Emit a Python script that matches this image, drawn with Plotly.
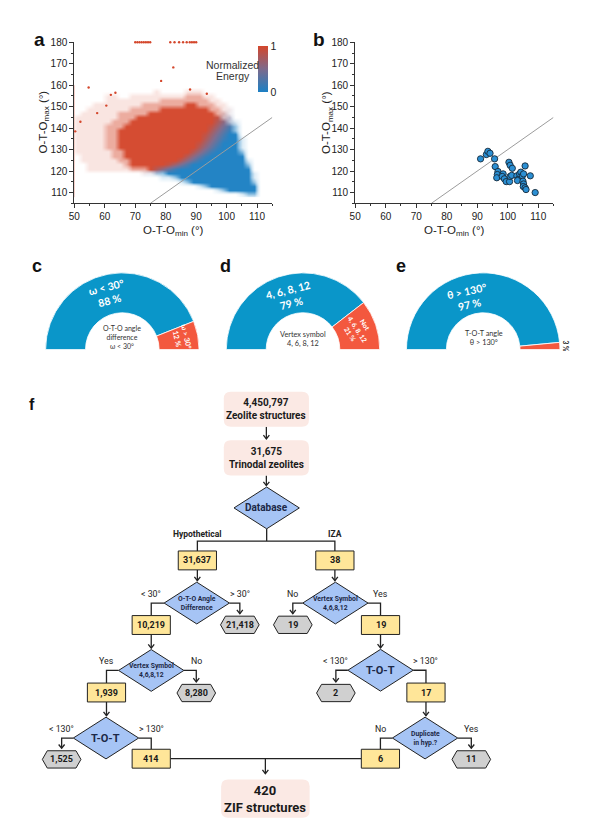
import plotly.graph_objects as go

W, H = 601, 825

# ---------------- panel a : O-T-O max vs O-T-O min, all trinodal zeolites ----------------
# The dense cloud is read off the picture on a 2 deg x 2 deg grid (cell centres).
cloud_x = [51, 53, 55, 57, 59, 61, 63, 65, 67, 69, 71, 73, 75, 77, 79, 81,
           83, 85, 87, 89, 91, 93, 95, 97, 99, 101, 103, 105, 107, 109, 111]
cloud_y = [159, 157, 155, 153, 151, 149, 147, 145, 143, 141, 139, 137, 135,
           133, 131, 129, 127, 125, 123, 121, 119, 117, 115, 113, 111, 109]
# mean normalized energy of the points in a cell: 0 (blue) .. 9 (red); groups of 5 columns
energy_rows = [
    "99999 99999 99999 99999 99999 98642 0",
    "99999 99999 99999 99999 99999 98642 0",
    "99999 99999 99999 99999 99999 97531 0",
    "99999 99999 99999 99999 99999 86420 0",
    "99999 99999 99999 99999 99999 75310 0",
    "99999 99999 99999 99999 99998 64200 0",
    "99999 99999 99999 99999 99997 53100 0",
    "99999 99999 99999 99999 99986 42000 0",
    "99999 99999 99999 99999 99975 31000 0",
    "99999 99999 99999 99999 99864 20000 0",
    "99999 99999 99999 99999 99753 10000 0",
    "99999 99999 99999 99999 98642 00000 0",
    "99999 99999 99999 99999 97531 00000 0",
    "99999 99999 99999 99999 86420 00000 0",
    "99999 99999 99999 99999 75310 00000 0",
    "99999 99999 99999 99997 53100 00000 0",
    "99999 99999 99999 99975 31000 00000 0",
    "99999 99999 99999 99753 10000 00000 0",
    "99999 99999 99999 86420 00000 00000 0",
    "99999 99999 99975 31000 00000 00000 0",
    "99999 99999 86420 00000 00000 00000 0",
    "99999 99986 42000 00000 00000 00000 0",
    "99999 98642 00000 00000 00000 00000 0",
    "99998 64200 00000 00000 00000 00000 0",
    "99864 20000 00000 00000 00000 00000 0",
    "86420 00000 00000 00000 00000 00000 0",
]
# how crowded a cell is: 0 empty, 1 sparse, 2 medium, 3 dense
density_rows = [
    "00000 00000 00000 00000 00000 00000 0",
    "00000 00000 00010 00011 10000 00000 0",
    "00000 11001 11111 11122 21100 00000 0",
    "00000 11111 11112 22222 22110 00000 0",
    "00011 11111 12222 22233 22211 00000 0",
    "00111 11112 22223 33333 33221 10000 0",
    "01111 11222 22333 33333 33322 10000 0",
    "11111 11222 33333 33333 33332 20000 0",
    "11111 12223 33333 33333 33333 21000 0",
    "11111 22233 33333 33333 33333 32000 0",
    "11111 22333 33333 33333 33333 32000 0",
    "11111 22333 33333 33333 33333 33000 0",
    "11111 22333 33333 33333 33333 33100 0",
    "11111 22333 33333 33333 33333 33100 0",
    "11111 22333 33333 33333 33333 33100 0",
    "11111 12233 33333 33333 33333 33200 0",
    "01111 12233 33333 33333 33333 33300 0",
    "01111 11223 33333 33333 33333 33310 0",
    "00111 11123 33333 33333 33333 33320 0",
    "00111 11112 22333 33333 33333 33330 0",
    "00000 00000 01122 33333 33333 33331 0",
    "00000 00000 00001 12333 33333 33331 0",
    "00000 00000 00000 00123 33333 33332 0",
    "00000 00000 00000 00000 12333 33333 0",
    "00000 00000 00000 00000 00012 33333 0",
    "00000 00000 00000 00000 00000 00122 0",
]
# isolated points
top_x = [70.0, 70.7, 71.4, 72.1, 72.8, 73.5, 74.2, 74.9, 81.5, 82.9, 84.4,
         85.7, 86.9, 87.9, 88.6, 89.3, 90.0]
top_y = [180] * len(top_x)
outlier_x = [50.3, 52.0, 54.7, 78.5, 82.5, 62.0, 63.5, 57.5, 60.5, 88.0, 93.5]
outlier_y = [138.5, 143.0, 158.9, 162.0, 168.3, 155.5, 156.5, 147.0, 150.5, 158.0, 156.0]
# reference line O-T-O max = O-T-O min + 30
diag_x = [75, 115]
diag_y = [105, 145]

# ---------------- panel b : the 34 IZA-derived points ----------------
zif_x = [91.1, 93.0, 93.5, 94.2, 95.7, 95.9, 96.8, 96.6, 96.4, 98.5, 98.2, 98.9,
         99.5, 100.6, 100.8, 101.3, 100.4, 100.8, 101.5, 103.0, 103.5, 103.2,
         103.9, 104.3, 104.8, 105.2, 105.7, 105.0, 105.2, 105.1, 105.7, 106.0,
         107.4, 109.0]
zif_y = [125.7, 127.7, 129.2, 128.3, 125.7, 122.1, 119.8, 118.4, 116.9, 118.7,
         117.5, 116.4, 115.1, 115.1, 117.5, 118.0, 124.1, 122.7, 121.3, 117.8,
         116.2, 115.6, 118.7, 119.5, 117.8, 118.7, 122.4, 115.3, 114.0, 112.8,
         112.2, 111.4, 117.8, 110.0]

x_ticks = [50, 60, 70, 80, 90, 100, 110]
y_ticks = [110, 120, 130, 140, 150, 160, 170, 180]

# ---------------- panels c-e : half donuts ----------------
donut_keep = [88, 79, 97]
donut_drop = [12, 21, 3]

# ---------------- panel f : flow chart ----------------
flow_nodes = [
    ("zeo", "start", 263.0, 406.7, "4,450,797<br>Zeolite structures"),
    ("tri", "start", 263.0, 455.7, "31,675<br>Trinodal zeolites"),
    ("db", "dec", 263.3, 506.0, "Database"),
    ("hyp", "keep", 193.3, 558.8, "31,637"),
    ("iza", "keep", 332.2, 558.8, "38"),
    ("oto", "dec", 192.7, 601.7, "O-T-O Angle<br>Difference"),
    ("k_oto", "keep", 146.7, 623.8, "10,219"),
    ("h_oto", "drop", 236.2, 623.6, "21,418"),
    ("vs_h", "dec", 146.7, 669.5, "Vertex Symbol<br>4,6,8,12"),
    ("k_vs_h", "keep", 101.5, 691.7, "1,939"),
    ("h_vs_h", "drop", 192.2, 692.2, "8,280"),
    ("tot_h", "dec", 101.0, 737.5, "T-O-T"),
    ("h_tot_h", "drop", 56.2, 759.0, "1,525"),
    ("k_tot_h", "keep", 146.7, 758.3, "414"),
    ("vs_i", "dec", 332.7, 601.7, "Vertex Symbol<br>4,6,8,12"),
    ("h_vs_i", "drop", 289.7, 623.6, "19"),
    ("k_vs_i", "keep", 378.3, 623.8, "19"),
    ("tot_i", "dec", 378.3, 669.3, "T-O-T"),
    ("h_tot_i", "drop", 333.2, 692.2, "2"),
    ("k_tot_i", "keep", 424.2, 691.7, "17"),
    ("dup", "dec", 423.3, 737.5, "Duplicate<br>in hyp.?"),
    ("k_dup", "keep", 378.2, 758.3, "6"),
    ("h_dup", "drop", 470.0, 759.0, "11"),
    ("zif", "end", 262.0, 798.5, "420<br>ZIF structures"),
]
straight_edges = [("zeo", "tri"), ("tri", "db"), ("hyp", "oto"), ("k_oto", "vs_h"),
                  ("k_vs_h", "tot_h"), ("iza", "vs_i"), ("k_vs_i", "tot_i"),
                  ("k_tot_i", "dup")]
elbow_edges = [
    ("oto", "L", "k_oto", False, "&lt; 30°"), ("oto", "R", "h_oto", True, "&gt; 30°"),
    ("vs_h", "L", "k_vs_h", False, "Yes"), ("vs_h", "R", "h_vs_h", True, "No"),
    ("tot_h", "L", "h_tot_h", True, "&lt; 130°"), ("tot_h", "R", "k_tot_h", False, "&gt; 130°"),
    ("vs_i", "L", "h_vs_i", True, "No"), ("vs_i", "R", "k_vs_i", False, "Yes"),
    ("tot_i", "L", "h_tot_i", True, "&lt; 130°"), ("tot_i", "R", "k_tot_i", False, "&gt; 130°"),
    ("dup", "L", "k_dup", False, "No"), ("dup", "R", "h_dup", True, "Yes"),
]

# ====================================================================================
AX_FONT = "Liberation Sans, Arial, sans-serif"
FLOW_FONT = "Roboto, Liberation Sans, sans-serif"
DON_FONT = "Lato, Open Sans, sans-serif"
RED_E, MID_E, BLUE_E = "#d4472c", "#7d6a8c", "#1c80c4"
DON_BLUE, DON_RED = "#0a96c9", "#f3583e"


def grid(rows):
    return [[int(c) for c in r.replace(" ", "")] for r in rows]


E, D = grid(energy_rows), grid(density_rows)

# the white veil is padded with empty cells well past the axis ranges, so that the
# colour layer's edges always sit under opaque white
PAD_L, PAD_R, PAD_T, PAD_B = 3, 4, 13, 4
vx = [cloud_x[0] - 2 * k for k in range(PAD_L, 0, -1)] + cloud_x + \
     [cloud_x[-1] + 2 * k for k in range(1, PAD_R + 1)]
vy = [cloud_y[0] + 2 * k for k in range(PAD_T, 0, -1)] + cloud_y + \
     [cloud_y[-1] - 2 * k for k in range(1, PAD_B + 1)]
ncol = len(vx)
D_veil = [[0] * ncol for _ in range(PAD_T)] + \
         [[0] * PAD_L + r + [0] * PAD_R for r in D] + \
         [[0] * ncol for _ in range(PAD_B)]

fig = go.Figure()

# panel a cloud: energy colour layer, then white veil that thins where points are dense
fig.add_trace(go.Heatmap(
    x=cloud_x, y=cloud_y, z=E, zmin=0, zmax=9, zsmooth="best",
    colorscale=[[0, BLUE_E], [0.5, MID_E], [1, RED_E]], hoverinfo="skip",
    xaxis="x", yaxis="y",
    colorbar=dict(x=255 / W, xanchor="left", y=1 - 64.5 / H, yanchor="middle",
                  len=46, lenmode="pixels", thickness=10, thicknessmode="pixels",
                  xpad=0, ypad=0, outlinewidth=0, tickvals=[0, 9], ticktext=["0", "1"],
                  ticks="", tickfont=dict(size=10.5, family=AX_FONT, color="#222"))))
fig.add_trace(go.Heatmap(
    x=vx, y=vy, z=D_veil, zmin=0, zmax=3, zsmooth="best",
    colorscale=[[0, "rgba(255,255,255,1)"], [1 / 3, "rgba(255,255,255,0.86)"],
                [2 / 3, "rgba(255,255,255,0.55)"], [1, "rgba(255,255,255,0.03)"]],
    showscale=False, hoverinfo="skip", xaxis="x", yaxis="y"))
fig.add_trace(go.Scatter(x=top_x + outlier_x, y=top_y + outlier_y, mode="markers",
                         marker=dict(size=2.4, color=RED_E), hoverinfo="skip",
                         xaxis="x", yaxis="y", cliponaxis=False))
for xa, ya in (("x", "y"), ("x2", "y2")):
    fig.add_trace(go.Scatter(x=diag_x, y=diag_y, mode="lines",
                             line=dict(color="#9c9c9c", width=1), hoverinfo="skip",
                             xaxis=xa, yaxis=ya))

# panel b
fig.add_trace(go.Scatter(x=zif_x, y=zif_y, mode="markers", xaxis="x2", yaxis="y2",
                         marker=dict(size=6.3, color="#2b8fd3",
                                     line=dict(color="#15293a", width=0.9)),
                         hoverinfo="skip"))

# panels c-e
CY, R = 346.7, 77.5
donut_cx = [117.5, 300.0, 482.0]
for cx, keep, drop in zip(donut_cx, donut_keep, donut_drop):
    fig.add_trace(go.Pie(
        values=[keep, drop, keep + drop], sort=False, direction="clockwise",
        rotation=270, hole=0.48, textinfo="none", hoverinfo="skip", showlegend=False,
        marker=dict(colors=[DON_BLUE, DON_RED, "rgba(0,0,0,0)"],
                    line=dict(color="white", width=[0.8, 0.8, 0])),
        domain=dict(x=[(cx - R) / W, (cx + R) / W], y=[1 - (CY + R) / H, 1 - (CY - R) / H])))

axis_common = dict(showline=True, linecolor="#333", linewidth=1, ticks="outside",
                   ticklen=4, tickwidth=1, tickcolor="#333", showgrid=False,
                   zeroline=False, tickfont=dict(family=AX_FONT, size=10, color="#222"),
                   minor=dict(ticks="outside", ticklen=2, tickcolor="#333", dtick=5,
                              showgrid=False))
ydom = [1 - 199.5 / H, 1 - 37.5 / H]
fig.update_layout(
    width=W, height=H, margin=dict(l=0, r=0, t=0, b=0),
    paper_bgcolor="white", plot_bgcolor="rgba(0,0,0,0)", showlegend=False,
    font=dict(family=AX_FONT, color="#222"),
    xaxis=dict(domain=[69 / W, 269 / W], range=[50, 115], tickvals=x_ticks, anchor="y",
               **axis_common),
    yaxis=dict(domain=ydom, range=[105, 180], tickvals=y_ticks, anchor="x", **axis_common),
    xaxis2=dict(domain=[352.7 / W, 553 / W], range=[50, 115], tickvals=x_ticks,
                anchor="y2", **axis_common),
    yaxis2=dict(domain=ydom, range=[105, 180], tickvals=y_ticks, anchor="x2",
                **axis_common),
    xaxis3=dict(domain=[0, 1], range=[0, W], visible=False, anchor="y3", fixedrange=True),
    yaxis3=dict(domain=[0, 1], range=[H, 0], visible=False, anchor="x3", fixedrange=True),
)


def txt(x, y, s, size, color="#222", family=FLOW_FONT, angle=0, **kw):
    fig.add_annotation(x=x, y=y, xref="x3", yref="y3", text=s, showarrow=False,
                       font=dict(size=size, color=color, family=family),
                       textangle=angle, **kw)


def shp(path, fill="rgba(0,0,0,0)", color="#222", width=1.2):
    fig.add_shape(type="path", path=path, xref="x3", yref="y3", fillcolor=fill,
                  line=dict(color=color, width=width), layer="above")


# panel letters
for lx, ly, s, sz in ((34, 35, "a", 19), (316.5, 35, "b", 19), (31, 262.5, "c", 18),
                      (222, 262.5, "d", 18), (399, 262.5, "e", 18), (26, 402, "f", 16)):
    txt(lx, ly, "<b>" + s + "</b>", sz, color="#111", family=AX_FONT)

# axis titles of a / b
for cx_t, cy_t in ((169, 227), (453, 227)):
    txt(cx_t, cy_t, "O-T-O<sub>min</sub> (°)", 11.5, family=AX_FONT)
for cx_t, cy_t in ((38, 117.5), (325, 118)):
    txt(cx_t, cy_t, "O-T-O<sub>max</sub> (°)", 11.5, family=AX_FONT, angle=-90)
txt(229, 60, "Normalized", 10.5, color="#333", family=AX_FONT)
txt(229, 71.5, "Energy", 10.5, color="#333", family=AX_FONT)

# donut labels
txt(103, 291, "<b>ω &lt; 30°<br>88 %</b>", 10.5, color="white", family=DON_FONT, angle=-14)
txt(177, 334.5, "<b>ω &gt; 30°<br>12 %</b>", 7.3, color="white", family=DON_FONT, angle=77)
txt(117.5, 334, "O-T-O angle<br>difference<br>ω &lt; 30°", 7, color="#333", family=DON_FONT)
txt(286, 294, "<b>4, 6, 8, 12<br>79 %</b>", 10.5, color="white", family=DON_FONT, angle=-14)
txt(355, 326, "<b>Not<br>4, 6, 8, 12<br>21 %</b>", 6.8, color="white", family=DON_FONT,
    angle=57)
txt(300, 336, "Vertex symbol<br>4, 6, 8, 12", 7.3, color="#333", family=DON_FONT)
txt(467, 294.5, "<b>θ &gt; 130°<br>97 %</b>", 10.5, color="white", family=DON_FONT, angle=-12)
txt(483, 335, "T-O-T angle<br>θ &gt; 130°", 7.3, color="#333", family=DON_FONT)
txt(565, 343, "<b>3 %</b>", 6.5, color="#222", family=DON_FONT, angle=90)

# ---- flow chart ----
HALF = {"start": (43, 17.7), "end": (44.7, 19.2), "dec": (33, 21),
        "keep": (19.3, 9.5), "drop": (19.5, 8.7)}
nodes = {n[0]: n for n in flow_nodes}


def half(nid):
    return HALF[nodes[nid][1]]


def arrow_head(x, y):
    shp(f"M{x - 3},{y - 3.8} L{x},{y} L{x + 3},{y - 3.8}", width=1.3)


# connectors first
for a, b in straight_edges:
    _, _, ax_, ay_, _ = nodes[a]
    _, _, bx_, by_, _ = nodes[b]
    y0 = ay_ + half(a)[1]
    y1 = by_ - half(b)[1] - 1.5
    shp(f"M{ax_},{y0} L{ax_},{y1}", width=1.3)
    arrow_head(ax_, y1)

for a, side, b, arr, lab in elbow_edges:
    _, _, ax_, ay_, _ = nodes[a]
    _, _, bx_, by_, _ = nodes[b]
    sx = ax_ - half(a)[0] if side == "L" else ax_ + half(a)[0]
    y1 = by_ - half(b)[1] - (2.5 if arr else 0)
    shp(f"M{sx},{ay_} L{bx_},{ay_} L{bx_},{y1}", width=1.3)
    if arr:
        arrow_head(bx_, y1)
    txt(bx_, ay_ - 9.5, lab, 8.8, color="#222")

# database split
dbx, dby = nodes["db"][2], nodes["db"][3]
hx, hy = nodes["hyp"][2], nodes["hyp"][3]
ix, iy = nodes["iza"][2], nodes["iza"][3]
split_y = 539.3
shp(f"M{dbx},{dby + 21} L{dbx},{split_y}", width=1.3)
shp(f"M{hx},{hy - 9.5} L{hx},{split_y} L{ix},{split_y} L{ix},{iy - 9.5}", width=1.3)
txt(hx, 532.7, "<b>Hypothetical</b>", 8.5)
txt(ix, 532.7, "<b>IZA</b>", 8.5)

# merge into final box
lx, ly = nodes["k_tot_h"][2], nodes["k_tot_h"][3]
rx = nodes["k_dup"][2]
zx, zy = nodes["zif"][2], nodes["zif"][3]
shp(f"M{lx + 19.3},{ly} L{rx - 19.3},{ly}", width=1.3)
shp(f"M{zx},{ly} L{zx},{zy - 19.2 - 6}", width=1.3)
arrow_head(zx, zy - 19.2 - 6)

# nodes
for nid, kind, cx, cy, label in flow_nodes:
    hw, hh = HALF[kind]
    if kind in ("start", "end"):
        r = 7
        x0, x1, y0, y1 = cx - hw, cx + hw, cy - hh, cy + hh
        shp(f"M{x0 + r},{y0} L{x1 - r},{y0} Q{x1},{y0} {x1},{y0 + r} L{x1},{y1 - r} "
            f"Q{x1},{y1} {x1 - r},{y1} L{x0 + r},{y1} Q{x0},{y1} {x0},{y1 - r} "
            f"L{x0},{y0 + r} Q{x0},{y0} {x0 + r},{y0} Z", fill="#fbe9e4", width=0)
        txt(cx, cy, "<b>" + label + "</b>", 10 if kind == "start" else 13, color="#1a1a1a")
    elif kind == "dec":
        shp(f"M{cx},{cy - hh} L{cx + hw},{cy} L{cx},{cy + hh} L{cx - hw},{cy} Z",
            fill="#a6c4f5", width=1)
        size = 10 if label == "Database" else (11 if label == "T-O-T" else 6.8)
        txt(cx, cy, "<b>" + label + "</b>", size, color="#1c2846")
    elif kind == "keep":
        shp(f"M{cx - hw},{cy - hh} L{cx + hw},{cy - hh} L{cx + hw},{cy + hh} "
            f"L{cx - hw},{cy + hh} Z", fill="#ffe699", width=1)
        txt(cx, cy, "<b>" + label + "</b>", 9, color="#1a1a1a")
    else:
        k = 5
        shp(f"M{cx - hw},{cy} L{cx - hw + k},{cy - hh} L{cx + hw - k},{cy - hh} "
            f"L{cx + hw},{cy} L{cx + hw - k},{cy + hh} L{cx - hw + k},{cy + hh} Z",
            fill="#d0d0d0", width=1)
        txt(cx, cy, "<b>" + label + "</b>", 9, color="#1a1a1a")

fig.write_html("out.html", config={"displayModeBar": False},
               post_script="document.body.style.margin='0';")
